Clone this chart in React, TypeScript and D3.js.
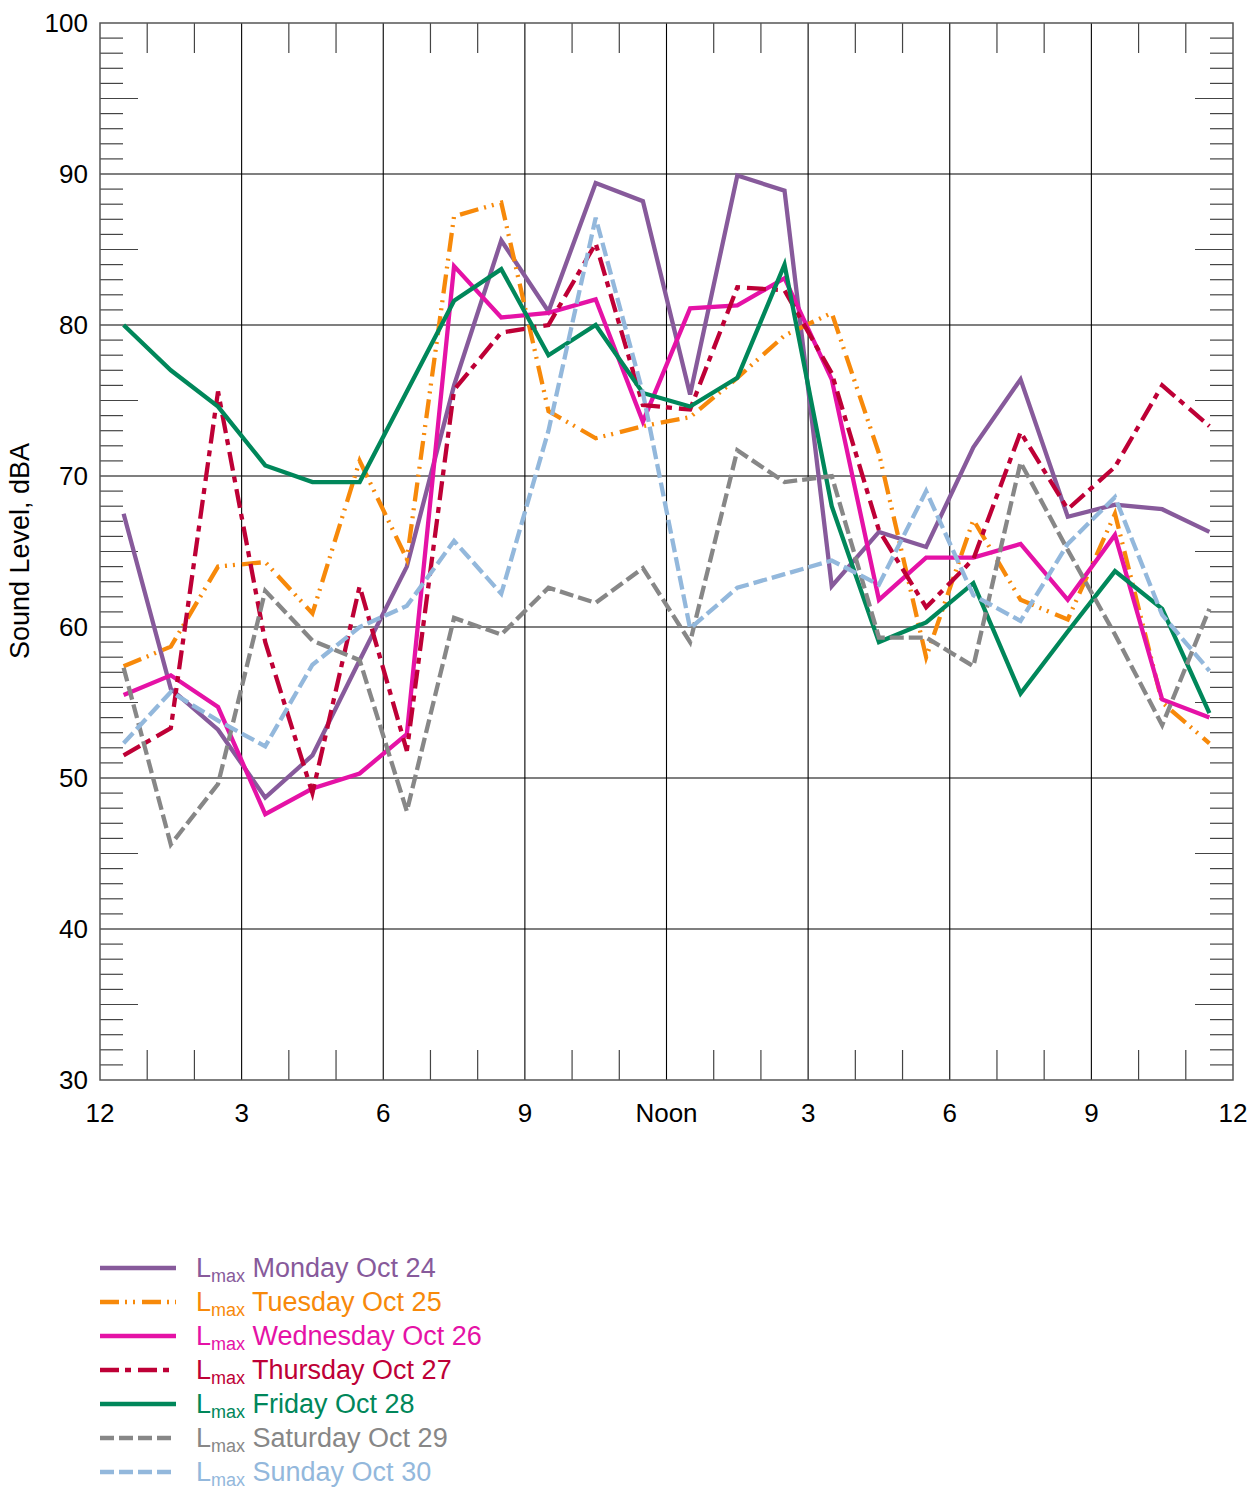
import React from "react";
import * as d3 from "d3";

const hours = [0.5,1.5,2.5,3.5,4.5,5.5,6.5,7.5,8.5,9.5,10.5,11.5,12.5,13.5,14.5,15.5,16.5,17.5,18.5,19.5,20.5,21.5,22.5,23.5];

const monday = [67.5,55.9,53.2,48.7,51.5,57.8,64.0,76.0,85.6,80.9,89.4,88.2,75.4,89.9,88.9,62.7,66.3,65.3,71.9,76.4,67.3,68.1,67.8,66.3];
const tuesday = [57.4,58.7,64.0,64.3,60.9,71.0,64.5,87.2,88.1,74.3,72.5,73.3,73.9,76.5,79.3,80.8,71.5,58.0,67.1,61.8,60.5,67.5,55.0,52.3];
const wednesday = [55.5,56.8,54.7,47.6,49.3,50.3,52.9,83.9,80.5,80.8,81.7,73.6,81.1,81.3,83.1,76.4,61.8,64.6,64.6,65.5,61.8,66.1,55.2,54.0];
const thursday = [51.5,53.3,75.6,59.0,49.0,62.7,51.8,75.7,79.5,80.0,85.4,74.7,74.4,82.5,82.3,76.8,66.4,61.3,64.5,72.9,67.8,70.6,76.0,73.3];
const friday = [80.0,77.0,74.6,70.7,69.6,69.6,75.6,81.6,83.7,78.0,80.0,75.5,74.6,76.5,84.0,68.0,59.0,60.3,62.9,55.6,59.7,63.7,61.2,54.3];
const saturday = [57.3,45.6,49.6,62.4,59.1,57.8,47.8,60.6,59.5,62.6,61.6,63.9,59.0,71.7,69.6,70.0,59.3,59.3,57.4,70.9,65.1,59.5,53.5,61.2];
const sunday = [52.3,55.7,53.8,52.1,57.5,60.0,61.4,65.7,62.2,73.0,87.1,75.5,59.9,62.6,63.5,64.4,62.8,69.0,62.1,60.4,65.5,68.6,60.8,57.1];

const seriesNames = ["Monday Oct 24","Tuesday Oct 25","Wednesday Oct 26","Thursday Oct 27","Friday Oct 28","Saturday Oct 29","Sunday Oct 30"];
const seriesValues = [monday,tuesday,wednesday,thursday,friday,saturday,sunday];
const seriesColors = ["#875A9B","#F7890A","#E512A6","#BE0036","#00875A","#878787","#93B8DC"];
const seriesDashes = ["none","19,6,2,6,2,7","none","19,6,6,7","none","14,5","14,5"];

const xTickHours = [0,3,6,9,12,15,18,21,24];
const xTickLabels = ["12","3","6","9","Noon","3","6","9","12"];
const yTickValues = [30,40,50,60,70,80,90,100];

const W = 1257, H = 1489;
const L = 100, R = 1233, T = 23, B = 1080;
const FONT = "Arial, 'Liberation Sans', Helvetica, sans-serif";

export default function App() {
  const x = d3.scaleLinear().domain([0, 24]).range([L, R]);
  const y = d3.scaleLinear().domain([30, 100]).range([B, T]);
  const line = d3.line<number>().x((_, i) => x(hours[i])).y((d) => y(d));

  const minorY = d3.range(31, 100).filter((v) => v % 10 !== 0);
  const minorX = d3.range(1, 24).filter((h) => h % 3 !== 0);
  const tickColor = "#444";

  return (
    <svg width={W} height={H} style={{ position: "absolute", left: 0, top: 0, background: "#fff" }} fontFamily={FONT}>
      <rect x={0} y={0} width={W} height={H} fill="#fff" />
      {minorY.map((v) => {
        const len = v % 5 === 0 ? 38 : 23;
        return (
          <g key={"yt" + v}>
            <line x1={L} x2={L + len} y1={y(v)} y2={y(v)} stroke={tickColor} strokeWidth={1.2} />
            <line x1={R - len} x2={R} y1={y(v)} y2={y(v)} stroke={tickColor} strokeWidth={1.2} />
          </g>
        );
      })}
      {minorX.map((h) => (
        <g key={"xt" + h}>
          <line x1={x(h)} x2={x(h)} y1={T} y2={T + 30} stroke={tickColor} strokeWidth={1.2} />
          <line x1={x(h)} x2={x(h)} y1={B - 30} y2={B} stroke={tickColor} strokeWidth={1.2} />
        </g>
      ))}
      {yTickValues.filter((v) => v > 30 && v < 100).map((v) => (
        <line key={"gy" + v} x1={L} x2={R} y1={y(v)} y2={y(v)} stroke="#000" strokeWidth={1.1} />
      ))}
      {xTickHours.filter((h) => h > 0 && h < 24).map((h) => (
        <line key={"gx" + h} x1={x(h)} x2={x(h)} y1={T} y2={B} stroke="#000" strokeWidth={1.1} />
      ))}
      <rect x={L} y={T} width={R - L} height={B - T} fill="none" stroke="#555" strokeWidth={1.5} />
      {seriesValues.map((vals, i) => (
        <path key={"s" + i} d={line(vals) || ""} fill="none" stroke={seriesColors[i]} strokeWidth={4.3}
          strokeDasharray={seriesDashes[i] === "none" ? undefined : seriesDashes[i]} strokeLinejoin="miter" />
      ))}
      {yTickValues.map((v) => (
        <text key={"yl" + v} x={88} y={y(v)} dy="0.36em" textAnchor="end" fontSize={26} fill="#000">{v}</text>
      ))}
      {xTickHours.map((h, i) => (
        <text key={"xl" + i} x={x(h)} y={1122} textAnchor="middle" fontSize={26} fill="#000">{xTickLabels[i]}</text>
      ))}
      <text transform={`translate(29,551) rotate(-90)`} textAnchor="middle" fontSize={27} fill="#000">Sound Level, dBA</text>
      {seriesNames.map((name, i) => {
        const cy = 1268 + i * 34;
        return (
          <g key={"lg" + i}>
            <line x1={100} x2={176} y1={cy} y2={cy} stroke={seriesColors[i]} strokeWidth={4.3}
              strokeDasharray={seriesDashes[i] === "none" ? undefined : seriesDashes[i]} />
            <text x={196} y={cy + 9} fontSize={27} fill={seriesColors[i]}>
              <tspan>L</tspan>
              <tspan fontSize={18} dy={5}>max</tspan>
              <tspan dy={-5}>{" " + name}</tspan>
            </text>
          </g>
        );
      })}
    </svg>
  );
}
